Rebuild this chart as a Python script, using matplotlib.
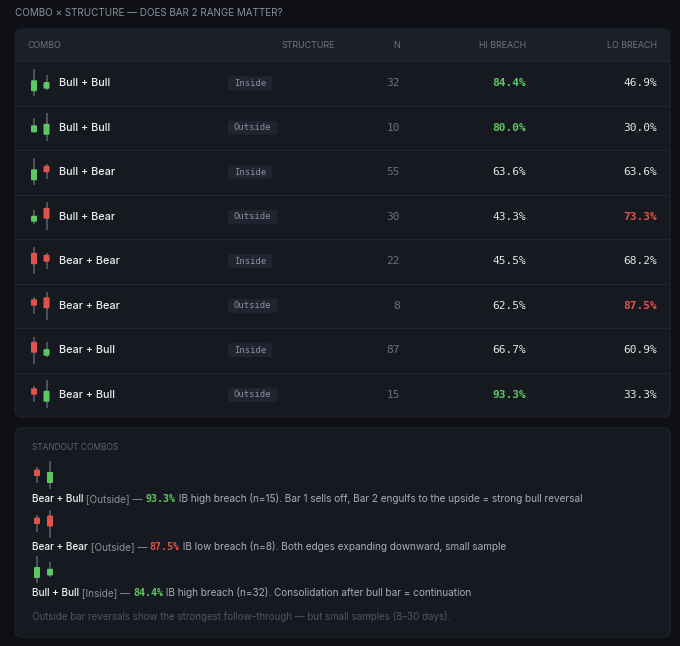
import matplotlib
matplotlib.use('Agg')
import matplotlib.pyplot as plt
from matplotlib.patches import FancyBboxPatch, Rectangle

# ---- data ----
combos = ['Bull + Bull', 'Bull + Bull', 'Bull + Bear', 'Bull + Bear',
          'Bear + Bear', 'Bear + Bear', 'Bear + Bull', 'Bear + Bull']
structures = ['Inside', 'Outside', 'Inside', 'Outside',
              'Inside', 'Outside', 'Inside', 'Outside']
n_days = [32, 10, 55, 30, 22, 8, 87, 15]
hi_breach = [84.4, 80.0, 63.6, 43.3, 45.5, 62.5, 66.7, 93.3]
lo_breach = [46.9, 30.0, 63.6, 73.3, 68.2, 87.5, 60.9, 33.3]

# candle sketches (open, high, low, close), arbitrary price units
bar1 = [(-8, 14.5, -13, 3), (-4.5, 9.5, -5.5, 2.5), (-8, 14.5, -13, 3), (-5, 6.5, -7, 1),
        (8.5, 14.5, -13, -3), (6.5, 9, -8, 0), (8.5, 13.5, -13.5, -2.5), (6.5, 9, -7, 0)]
bar2 = [(-5.5, 8.5, -7, 1.2), (-7, 15, -13, 4), (6.5, 8.5, -7, 0), (9, 14.5, -13.5, -2),
        (6.5, 8.5, -7.5, -0.5), (8.5, 14, -14, -2.5), (-5.5, 8.5, -6.5, 1.2), (-7, 15, -13, 4)]

standout_idx = [7, 5, 0]
standout_side = ['hi', 'lo', 'hi']
standout_notes = ['Bar 1 sells off, Bar 2 engulfs to the upside = strong bull reversal',
                  'Both edges expanding downward, small sample',
                  'Consolidation after bull bar = continuation']
footnote = 'Outside bar reversals show the strongest follow-through \u2014 but small samples (8\u201330 days).'
title = 'COMBO \u00d7 STRUCTURE \u2014 DOES BAR 2 RANGE MATTER?'
headers = ['COMBO', 'STRUCTURE', 'N', 'HI BREACH', 'LO BREACH']

# ---- style ----
BG = '#0e1016'
PANEL = '#171920'
HEAD = '#1c1f29'
LINE = '#23262f'
GREEN = '#5cc863'
RED = '#e0524b'
WICK = '#5d616b'
SANS = ['Inter', 'DejaVu Sans']
MONO = ['DejaVu Sans Mono']

W, H = 680, 646
fig = plt.figure(figsize=(W / 100, H / 100), dpi=100, facecolor=BG)
ax = fig.add_axes([0, 0, 1, 1])
ax.set_xlim(0, W)
ax.set_ylim(H, 0)
ax.axis('off')
renderer = fig.canvas.get_renderer()


def draw_candle(x, y0, ohlc, scale=1.0):
    o, h, l, c = ohlc
    color = GREEN if c > o else RED
    ax.plot([x, x], [y0 - h * scale, y0 - l * scale], color=WICK, lw=1.1,
            solid_capstyle='butt', zorder=3)
    top, bot = max(o, c), min(o, c)
    ax.add_patch(FancyBboxPatch((x - 3, y0 - top * scale), 6, (top - bot) * scale,
                                boxstyle='round,pad=0,rounding_size=1',
                                fc=color, ec='none', zorder=4))


def text_run(x, y, pieces, size=7.2):
    # pieces: (string, color, family, weight)
    for s, col, fam, wt in pieces:
        t = ax.text(x, y, s, color=col, family=fam, weight=wt, fontsize=size,
                    ha='left', va='center')
        x += t.get_window_extent(renderer).width


ax.text(15, 13, title, color='#8a8f9a', family=SANS, fontsize=7.1, va='center')

# table panel
top, head_h, row_h = 29, 32, 44.5
bottom = top + head_h + row_h * len(combos)
ax.add_patch(FancyBboxPatch((15, top), 655, bottom - top,
                            boxstyle='round,pad=0,rounding_size=7',
                            fc=PANEL, ec='#21242d', lw=0.8, zorder=1))
ax.add_patch(FancyBboxPatch((15.5, top + 0.5), 654, head_h,
                            boxstyle='round,pad=0,rounding_size=7',
                            fc=HEAD, ec='none', zorder=1.5))
ax.add_patch(Rectangle((15.5, top + head_h - 8), 654, 8, fc=HEAD, ec='none', zorder=1.5))
ax.plot([15.5, 669.5], [top + head_h, top + head_h], color=LINE, lw=0.8, zorder=2)

col_x = [28, 335, 400, 526, 657]
col_ha = ['left', 'right', 'right', 'right', 'right']
hy = top + head_h / 2
for hx, ha, lab in zip(col_x, col_ha, headers):
    ax.text(hx, hy, lab, color='#6e7380', family=SANS, fontsize=6.4, ha=ha, va='center')

for i, combo in enumerate(combos):
    yc = top + head_h + row_h * (i + 0.5)
    if i > 0:
        ax.plot([15.5, 669.5], [yc - row_h / 2] * 2, color=LINE, lw=0.8, zorder=2)
    draw_candle(34, yc, bar1[i])
    draw_candle(46.5, yc, bar2[i])
    ax.text(59, yc, combo, color='#ecedf0', family=SANS, weight='medium',
            fontsize=7.8, va='center')
    t = ax.text(234, yc, structures[i], color='#8a909c', family=MONO, fontsize=6.4,
                va='center', zorder=5)
    tw = t.get_window_extent(renderer).width
    ax.add_patch(FancyBboxPatch((228, yc - 7), tw + 12, 14,
                                boxstyle='round,pad=0,rounding_size=2',
                                fc='#202431', ec='none', zorder=4))
    ax.text(400, yc, str(n_days[i]), color='#6b707b', family=MONO, fontsize=8,
            ha='right', va='center')
    hi_hot = hi_breach[i] >= 80
    lo_hot = lo_breach[i] >= 70
    ax.text(526, yc, f'{hi_breach[i]:.1f}%', color=GREEN if hi_hot else '#e4e5e9',
            family=MONO, fontsize=8, weight='bold' if hi_hot else 'normal',
            ha='right', va='center')
    ax.text(657, yc, f'{lo_breach[i]:.1f}%', color=RED if lo_hot else '#e4e5e9',
            family=MONO, fontsize=8, weight='bold' if lo_hot else 'normal',
            ha='right', va='center')

# standout panel
ax.add_patch(FancyBboxPatch((15, 428), 655, 209,
                            boxstyle='round,pad=0,rounding_size=7',
                            fc=PANEL, ec='#21242d', lw=0.8, zorder=1))
ax.text(32, 447, 'STANDOUT COMBOS', color='#5f6471', family=SANS, fontsize=6,
        va='center')

line_y = [499, 547, 593]
for k, (idx, side, note) in enumerate(zip(standout_idx, standout_side, standout_notes)):
    ly = line_y[k]
    cy = ly - 23
    draw_candle(37, cy, bar1[idx])
    draw_candle(50, cy, bar2[idx])
    val = hi_breach[idx] if side == 'hi' else lo_breach[idx]
    word = 'high' if side == 'hi' else 'low'
    text_run(32, ly, [
        (combos[idx], '#f0f1f3', SANS, 'medium'),
        (f' [{structures[idx]}] \u2014 ', '#8d929c', SANS, 'normal'),
        (f'{val:.1f}%', GREEN if side == 'hi' else RED, MONO, 'bold'),
        (f' IB {word} breach (n={n_days[idx]}). {note}', '#a9adb5', SANS, 'normal'),
    ])

ax.text(32, 616, footnote, color='#50555f', family=SANS, fontsize=7, va='center')

fig.savefig('out.png', dpi=100, facecolor=BG)
